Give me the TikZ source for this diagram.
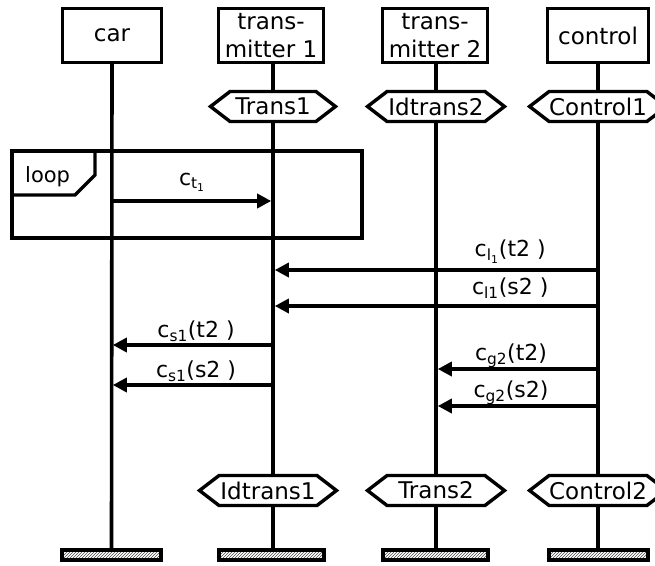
\documentclass[tikz,border=0pt]{standalone}
\usepackage{fontspec}
\setmainfont{DejaVu Sans}
\usetikzlibrary{shapes.symbols,arrows.meta,patterns,backgrounds}
\begin{document}
\begin{tikzpicture}[x=1pt,y=-1pt,
  every node/.style={font=\fontsize{23}{28}\selectfont},
  head/.style={draw, line width=3.4pt, fill=white, minimum height=54pt, minimum width=#1, inner sep=0pt, align=center},
  cond/.style={signal, signal to=west and east, signal pointer angle=75, draw, line width=3.4pt, fill=white, minimum height=30pt, minimum width=#1, inner sep=0pt},
  endbar/.style={draw, line width=4pt, pattern=north east lines, pattern color=black!70, minimum width=99pt, minimum height=10pt, inner sep=0pt},
  life/.style={line width=3.6pt},
  frame/.style={line width=3.4pt},
  msg/.style={line width=3.4pt, -{Triangle[length=14pt,width=14pt]}, shorten >=1.8pt},
  lbl/.style={font=\fontsize{22}{26}\selectfont, anchor=base, inner sep=0pt},
]
\useasboundingbox (0,0) rectangle (655,565);

% heads
\node[head=99pt]  (h1) at (112,35.5) {car};
\node[head=105pt] (h2) at (271,35.5) {trans-\\mitter 1};
\node[head=105pt] (h3) at (435,35.5) {trans-\\mitter 2};
\node[head=101pt] (h4) at (598,35.5) {control};

% conditions top
\node[cond=125pt] (s2) at (273,106.5) {Trans1};
\node[cond=137pt] (s3) at (436,106.5) {Idtrans2};
\node[cond=127pt] (s4) at (598,106.5) {Control1};

% conditions bottom
\node[cond=137pt] (e2) at (268,490.5) {Idtrans1};
\node[cond=137pt] (e3) at (436,490.5) {Trans2};
\node[cond=127pt] (e4) at (598,490.5) {Control2};

% end bars
\node[endbar] (b1) at (111.5,555) {};
\node[endbar, minimum width=105pt] (b2) at (271,555) {};
\node[endbar, minimum width=105pt] (b3) at (435,555) {};
\node[endbar] (b4) at (598,555) {};

% lifelines
\begin{scope}[on background layer]
  \draw[life] (h1.south) -- (b1.north);
  \draw[life] (273,64) -- (273,548);
  \draw[life] (436,64) -- (436,548);
  \draw[life] (h4.south) -- (b4.north);
\end{scope}

% loop frame
\draw[frame] (12,151) rectangle (362,238);
\draw[frame] (12,195) -- (75,195) -- (95,175) -- (95,151);
\node[anchor=base west, inner sep=0pt, font=\fontsize{21}{24}\selectfont] (loop) at (25,182) {loop};

% message coordinates
\coordinate (m1s) at (111,201); \coordinate (m1e) at (273,201);
\coordinate (m2s) at (598,270); \coordinate (m2e) at (273,270);
\coordinate (m3s) at (598,306); \coordinate (m3e) at (273,306);
\coordinate (m4s) at (273,345); \coordinate (m4e) at (111,345);
\coordinate (m5s) at (598,369); \coordinate (m5e) at (436,369);
\coordinate (m6s) at (273,385); \coordinate (m6e) at (111,385);
\coordinate (m7s) at (598,406); \coordinate (m7e) at (436,406);

\draw[msg] (m1s) -- node[lbl, pos=0.5, yshift=16pt] {c\textsubscript{t\textsubscript{1}}} (m1e);
\draw[msg] (m2s) -- node[lbl, pos=0.27, yshift=14pt] {c\textsubscript{l\textsubscript{1}}(t2 )} (m2e);
\draw[msg] (m3s) -- node[lbl, pos=0.27, yshift=12pt] {c\textsubscript{l1}(s2 )} (m3e);
\draw[msg] (m4s) -- node[lbl, pos=0.475, yshift=8pt] {c\textsubscript{s1}(t2 )} (m4e);
\draw[msg] (m5s) -- node[lbl, pos=0.537, yshift=9pt] {c\textsubscript{g2}(t2)} (m5e);
\draw[msg] (m6s) -- node[lbl, pos=0.475, yshift=8pt] {c\textsubscript{s1}(s2 )} (m6e);
\draw[msg] (m7s) -- node[lbl, pos=0.537, yshift=9pt] {c\textsubscript{g2}(s2)} (m7e);
\end{tikzpicture}
\end{document}
